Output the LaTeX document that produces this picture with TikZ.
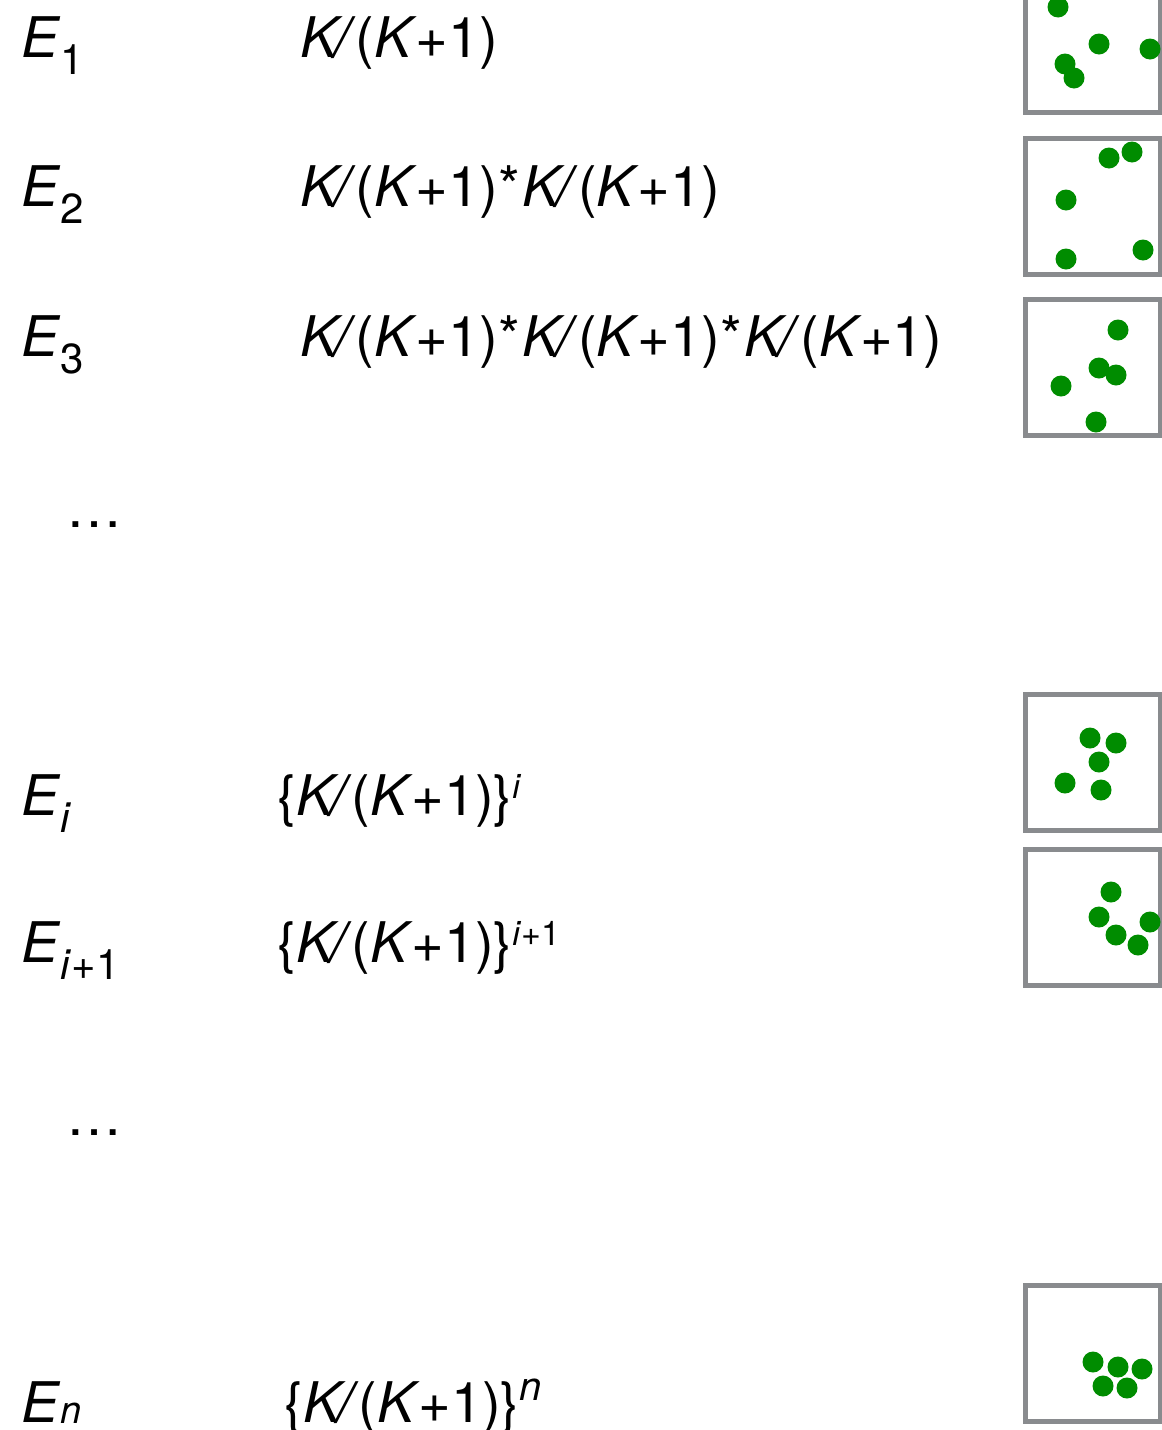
\documentclass[tikz,border=0pt]{standalone}
\usepackage{fontspec}
\setmainfont{TeX Gyre Heros}
\usetikzlibrary{positioning}
\definecolor{dotgreen}{RGB}{0,140,0}
\definecolor{boxgray}{RGB}{137,139,142}
\tikzstyle{eventtext} = [anchor=base west, inner sep=0pt, font=\fontsize{28}{34}\selectfont]
\tikzstyle{samplebox} = [rectangle, draw=boxgray, line width=2.5pt, minimum width=67.25pt, minimum height=68pt, inner sep=0pt]
\tikzstyle{ball} = [fill=dotgreen]
\newcommand{\lowsub}[1]{\raisebox{-0.32em}{\fontsize{21}{24}\selectfont #1}}
\newcommand{\highsup}[1]{\raisebox{0.3em}{\fontsize{17}{20}\selectfont #1}}
\newcommand{\kratio}{\textit{K\kern-0.06em/}(\textit{K}\kern-0.03em+1)}
\newcommand{\ktimes}{*\kern0.05em}

\begin{document}
\begin{tikzpicture}[x=0.5pt, y=-0.5pt]
\useasboundingbox (0,0) rectangle (1162,1430);
% Labels
\node[eventtext] (e1) at (21,57) {\textit{E}\lowsub{1}};
\node[eventtext] (e2) at (21,206) {\textit{E}\lowsub{2}};
\node[eventtext] (e3) at (21,356) {\textit{E}\lowsub{3}};
\node[eventtext] (edots1) at (66,527) {…};
\node[eventtext] (ei) at (21,815) {\textit{E}\lowsub{\textit{i}}};
\node[eventtext] (eii) at (21,962) {\textit{E}\lowsub{\textit{i}+1}};
\node[eventtext] (edots2) at (66,1135) {…};
\node[eventtext] (en) at (21,1422) {\textit{E}\raisebox{-0.02em}{\fontsize{19}{20}\selectfont\textit{n}}};

% Probabilities
\node[eventtext] (p1) at (300,57) {\kratio};
\node[eventtext] (p2) at (300,206) {\kratio\ktimes\kratio};
\node[eventtext] (p3) at (300,356) {\kratio\ktimes\kratio\ktimes\kratio};
\node[eventtext] (pi) at (277,815) {\{\kratio\}\highsup{\textit{i}}};
\node[eventtext] (pii) at (277,962) {\{\kratio\}\highsup{\textit{i}+1}};
\node[eventtext] (pn) at (284,1422) {\{\kratio\}\raisebox{0.38em}{\fontsize{20}{22}\selectfont\textit{n}}};

% Samples
\node[samplebox] (box1) at (1092.75,44) {};
\node[samplebox] (box2) at (1092.75,206) {};
\node[samplebox] (box3) at (1092.75,367.5) {};
\node[samplebox] (boxi) at (1092.75,762.5) {};
\node[samplebox] (boxii) at (1092.75,917.5) {};
\node[samplebox] (boxn) at (1092.75,1353.5) {};

\foreach \px/\py in {1058/7, 1099/44, 1150/49, 1065/64, 1074/78,
  1109/158, 1132/152, 1066/200, 1143/250, 1066/259,
  1118/330, 1099/368, 1116/375, 1061/386, 1096/422,
  1090/738, 1116/743, 1099/762, 1065/783, 1101/790,
  1111/892, 1099/917, 1150/922, 1116/935, 1138/945,
  1093/1362, 1118/1367, 1142/1369, 1103/1386, 1127/1388}
  \fill[ball] (\px,\py) circle (5.25pt);
\end{tikzpicture}
\end{document}
